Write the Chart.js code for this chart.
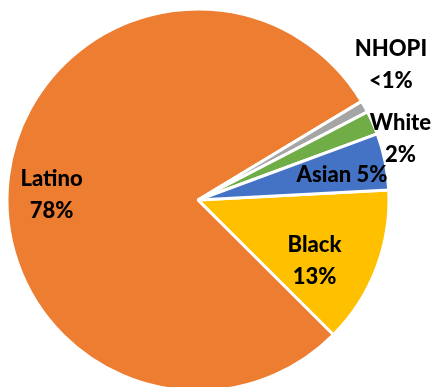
<!DOCTYPE html>
<html><head><meta charset="utf-8">
<script src="https://cdn.jsdelivr.net/npm/chart.js@4"></script>
<style>html,body{margin:0;padding:0;background:#fff;overflow:hidden}#wrap{width:434px;height:400px;position:relative}</style>
</head><body>
<div id="wrap"><canvas id="c"></canvas></div>
<script>
const categories = ["Black", "Latino", "NHOPI", "White", "Asian"];
const values = [13.3, 78.9, 1.0, 2.0, 4.8];
const colors = ["#FFC000", "#ED7D31", "#A5A5A5", "#70AD47", "#4472C4"];
const labelLines = [["Black", "13%"], ["Latino", "78%"], ["NHOPI", "<1%"], ["White", "2%"], ["Asian 5%"]];
// label block centre relative to pie centre, in units of radius
const labelOffsets = [[0.610, 0.319], [-0.767, -0.026], [1.010, -0.707], [1.060, -0.322], [0.754, -0.131]];

const labelPlugin = {
  id: 'pieLabels',
  afterDatasetsDraw(chart) {
    const ctx = chart.ctx;
    const meta = chart.getDatasetMeta(0);
    ctx.save();
    ctx.font = "900 22px Lato";
    ctx.fillStyle = "#000";
    ctx.textAlign = "center";
    ctx.textBaseline = "middle";
    meta.data.forEach((arc, i) => {
      const r = arc.outerRadius;
      const cx = arc.x + labelOffsets[i][0] * r;
      const cy = arc.y + labelOffsets[i][1] * r;
      const lines = labelLines[i];
      const lh = 32;
      lines.forEach((t, j) => {
        ctx.fillText(t, cx, cy + (j - (lines.length - 1) / 2) * lh);
      });
    });
    ctx.restore();
  }
};

new Chart(document.getElementById('c'), {
  type: 'pie',
  data: { labels: categories, datasets: [{ data: values, backgroundColor: colors, borderColor: '#fff', borderWidth: 3, radius: 191 }] },
  options: {
    responsive: true, maintainAspectRatio: false, animation: false,
    rotation: 87,
    layout: { padding: { left: 0, right: 38, top: 0, bottom: 0 } },
    plugins: { legend: { display: false }, tooltip: { enabled: false } }
  },
  plugins: [labelPlugin]
});
</script>
</body></html>
